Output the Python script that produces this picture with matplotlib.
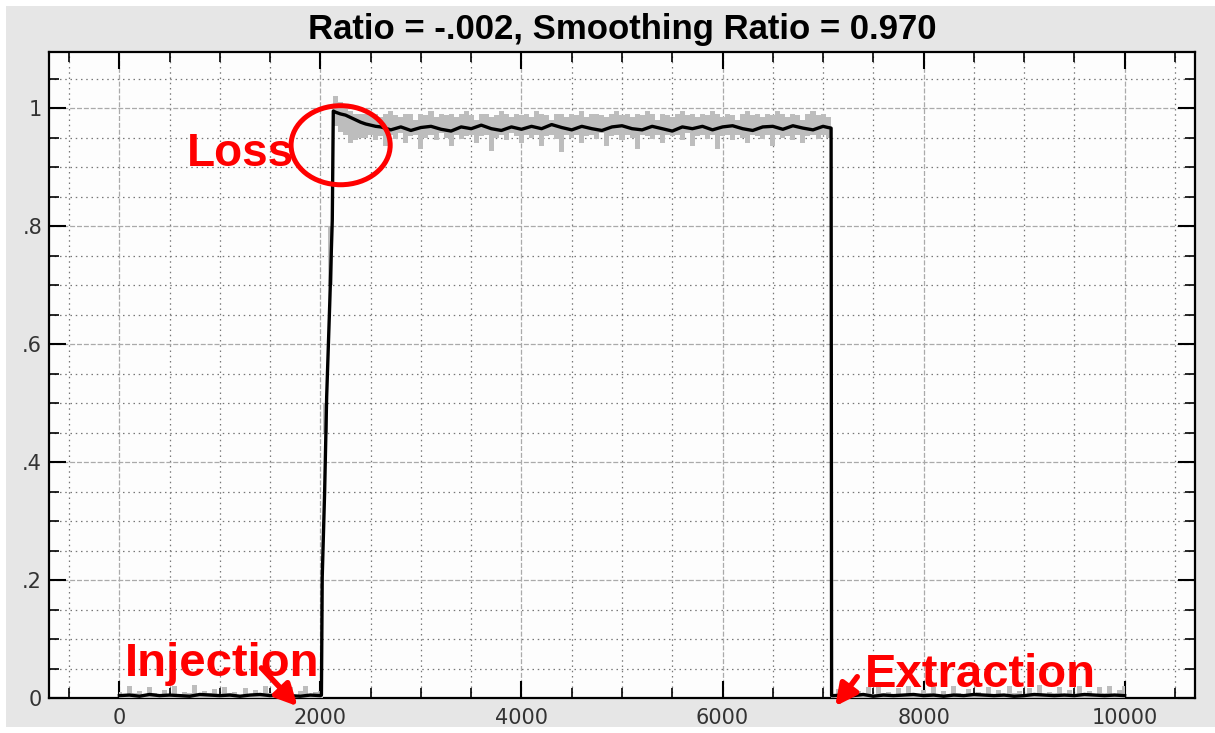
import numpy as np
import matplotlib
matplotlib.use("Agg")
import matplotlib.pyplot as plt
from matplotlib.patches import Ellipse, Rectangle
from matplotlib.ticker import MultipleLocator, FixedLocator

# raw signal (gray): max / min envelope per 50-turn bin, 0 .. 10000
hi_base_inj = [0.01, 0.006, 0.02, 0.008, 0.012, 0.005, 0.018, 0.009, 0.006, 0.014,
               0.007, 0.02, 0.006, 0.011, 0.008, 0.022, 0.005, 0.012, 0.009, 0.016,
               0.006, 0.019, 0.008, 0.01, 0.005, 0.017, 0.007, 0.013, 0.006, 0.021,
               0.009, 0.006, 0.015, 0.008, 0.018, 0.005, 0.012, 0.02, 0.007, 0.01]
hi_rise = [0.012, 0.5, 0.8]
lo_rise = [0.0, 0.45, 0.7]
hi_peak = [1.02, 1.01, 1.0, 0.995, 0.99, 0.99, 0.99]
lo_peak = [0.97, 0.96, 0.955, 0.94, 0.945, 0.95, 0.95]
hi_plateau = [0.988, 0.99, 0.985, 0.99, 0.995, 0.988, 0.985, 0.99, 0.99, 0.98,
              0.99, 0.988, 0.995, 0.985, 0.99, 0.988, 0.99, 0.985, 0.99, 0.995,
              0.988, 0.98, 0.99, 0.99, 0.985, 0.988, 0.995, 0.99, 0.985, 0.99,
              0.988, 0.99, 0.985, 0.995, 0.99, 0.988, 0.98, 0.99, 0.99, 0.985,
              0.99, 0.988, 0.995, 0.985, 0.99, 0.99, 0.988, 0.985, 0.99, 0.995,
              0.988, 0.99, 0.985, 0.99, 0.988, 0.995, 0.99, 0.98, 0.99, 0.988,
              0.985, 0.99, 0.995, 0.988, 0.99, 0.985, 0.99, 0.988, 0.995, 0.99,
              0.985, 0.99, 0.988, 0.98, 0.99, 0.995, 0.988, 0.99, 0.985, 0.99,
              0.988, 0.995, 0.99, 0.985, 0.99, 0.988, 0.98, 0.99, 0.995, 0.988,
              0.99, 0.985]
lo_plateau = [0.955, 0.945, 0.952, 0.935, 0.955, 0.948, 0.958, 0.94, 0.952, 0.955,
              0.93, 0.95, 0.955, 0.945, 0.958, 0.95, 0.935, 0.955, 0.948, 0.952,
              0.955, 0.94, 0.952, 0.955, 0.928, 0.95, 0.955, 0.945, 0.958, 0.952,
              0.94, 0.955, 0.95, 0.955, 0.935, 0.952, 0.955, 0.948, 0.925, 0.955,
              0.95, 0.955, 0.94, 0.952, 0.955, 0.948, 0.958, 0.935, 0.952, 0.955,
              0.945, 0.955, 0.95, 0.93, 0.955, 0.952, 0.948, 0.955, 0.94, 0.955,
              0.952, 0.955, 0.945, 0.958, 0.935, 0.952, 0.955, 0.948, 0.955, 0.93,
              0.952, 0.955, 0.945, 0.955, 0.95, 0.94, 0.955, 0.952, 0.948, 0.955,
              0.935, 0.955, 0.95, 0.952, 0.945, 0.955, 0.94, 0.952, 0.955, 0.948,
              0.955, 0.95]
hi_base_ext = [0.006, 0.015, 0.008, 0.02, 0.005, 0.012, 0.009, 0.018, 0.006, 0.022,
               0.008, 0.011, 0.005, 0.017, 0.007, 0.02, 0.009, 0.006, 0.014, 0.008,
               0.019, 0.005, 0.012, 0.007, 0.021, 0.009, 0.006, 0.016, 0.008, 0.011,
               0.005, 0.018, 0.007, 0.013, 0.006, 0.02, 0.009, 0.012, 0.005, 0.017,
               0.008, 0.022, 0.006, 0.011, 0.009, 0.019, 0.005, 0.014, 0.007, 0.02,
               0.008, 0.012, 0.006, 0.018, 0.009, 0.021, 0.005, 0.013, 0.02]
raw_x = np.arange(0, 10001, 50)
raw_hi = hi_base_inj + hi_rise + hi_peak + hi_plateau + hi_base_ext
raw_lo = [0.0] * 40 + lo_rise + lo_peak + lo_plateau + [0.0] * 59

# smoothed signal (black)
sm_base_inj = [0.004, 0.005, 0.003, 0.006, 0.004, 0.005, 0.004, 0.003, 0.006, 0.005, 0.004,
               0.005, 0.003, 0.005, 0.006, 0.004, 0.005, 0.004, 0.003, 0.005, 0.004]
rise_x = [2010, 2018, 2042, 2062, 2092, 2118, 2128]
rise_y = [0.005, 0.205, 0.35, 0.51, 0.665, 0.81, 0.995]
sm_decay = [0.993, 0.99, 0.988, 0.984, 0.98, 0.976, 0.973, 0.971, 0.969]
sm_plateau = [0.968, 0.963, 0.968, 0.962, 0.967, 0.969, 0.964, 0.961, 0.968, 0.965,
              0.971, 0.965, 0.962, 0.968, 0.964, 0.969, 0.965, 0.972, 0.967, 0.963,
              0.969, 0.965, 0.962, 0.968, 0.97, 0.965, 0.963, 0.969, 0.965, 0.961,
              0.968, 0.965, 0.969, 0.963, 0.968, 0.97, 0.965, 0.962, 0.968, 0.969,
              0.964, 0.97, 0.966, 0.963, 0.969]
drop_x = [7050, 7080, 7085]
drop_y = [0.967, 0.966, 0.004]
sm_base_ext = [0.004, 0.005, 0.004, 0.006, 0.003, 0.005, 0.004, 0.005, 0.006, 0.004,
               0.005, 0.003, 0.005, 0.004, 0.006, 0.005, 0.004, 0.005, 0.003, 0.004,
               0.006, 0.005, 0.004, 0.005, 0.004, 0.006, 0.005, 0.004, 0.005, 0.004]

sm_x = np.concatenate([np.arange(0, 2001, 100), rise_x, np.arange(2150, 2551, 50),
                       np.arange(2600, 7001, 100), drop_x, np.arange(7100, 10001, 100)])
sm_y = sm_base_inj + rise_y + sm_decay + sm_plateau + drop_y + sm_base_ext

title = "Ratio = -.002, Smoothing Ratio = 0.970"
ytick_vals = [0, 0.2, 0.4, 0.6, 0.8, 1.0]
ytick_labels = ["0", ".2", ".4", ".6", ".8", "1"]

fig = plt.figure(figsize=(12.15, 7.33), dpi=100, facecolor="white")
fig.patches.append(Rectangle((6 / 1215, 6 / 733), 1 - 6 / 1215, 1 - 12 / 733,
                             transform=fig.transFigure, facecolor="#e6e6e6",
                             edgecolor="none", zorder=-10))
ax = fig.add_axes([49 / 1215, 1 - 698 / 733, (1195 - 49) / 1215, (698 - 52) / 733])
ax.set_facecolor("#fdfdfd")

ax.fill_between(raw_x, raw_lo, raw_hi, step="mid", color="#bdbdbd", lw=0, zorder=3)
ax.plot(sm_x, sm_y, color="black", lw=2.4, zorder=4)

ax.set_xlim(-700, 10700)
ax.set_ylim(0, 1.095)
ax.xaxis.set_major_locator(MultipleLocator(2000))
ax.xaxis.set_minor_locator(MultipleLocator(500))
ax.yaxis.set_major_locator(FixedLocator(ytick_vals))
ax.yaxis.set_minor_locator(MultipleLocator(0.05))
ax.set_yticklabels(ytick_labels)

ax.grid(which="major", color="#aaaaaa", lw=0.9, linestyle=(0, (4, 1.5)), zorder=1)
ax.grid(which="minor", color="#777777", lw=0.9, linestyle=(0, (1.2, 3)), zorder=1)
ax.set_axisbelow(True)

ax.tick_params(which="both", direction="in", top=True, right=True, color="black")
ax.tick_params(which="major", length=12, width=1.5)
ax.tick_params(which="minor", length=7, width=1.2)
ax.tick_params(axis="x", which="major", labelsize=15, pad=7, labelcolor="#333333")
ax.tick_params(axis="y", which="major", labelsize=15, pad=5, labelcolor="#333333")
for s in ax.spines.values():
    s.set_linewidth(1.6)

ax.set_title(title, fontsize=25, fontweight="bold", family="Liberation Sans", pad=9)

red = "#ff0000"
ax.text(667, 0.902, "Loss", color=red, fontsize=33, fontweight="bold",
        family="Liberation Sans", ha="left", va="baseline", zorder=6)
ax.text(50, 0.037, "Injection", color=red, fontsize=34, fontweight="bold",
        family="Liberation Sans", ha="left", va="baseline", zorder=6)
ax.text(7420, 0.019, "Extraction", color=red, fontsize=34, fontweight="bold",
        family="Liberation Sans", ha="left", va="baseline", zorder=6)

ax.annotate("", xy=(1773, -0.014), xytext=(1414, 0.051), annotation_clip=False,
            arrowprops=dict(arrowstyle="-|>", color=red, lw=4, mutation_scale=32,
                            shrinkA=0, shrinkB=0), zorder=6)
ax.annotate("", xy=(7121, -0.014), xytext=(7340, 0.036), annotation_clip=False,
            arrowprops=dict(arrowstyle="-|>", color=red, lw=4, mutation_scale=32,
                            shrinkA=0, shrinkB=0), zorder=6)

ax.add_patch(Ellipse((2201, 0.937), 986, 0.134, fill=False, edgecolor=red, lw=3.6,
                     zorder=6, clip_on=False))

fig.savefig("out.png", dpi=100)
